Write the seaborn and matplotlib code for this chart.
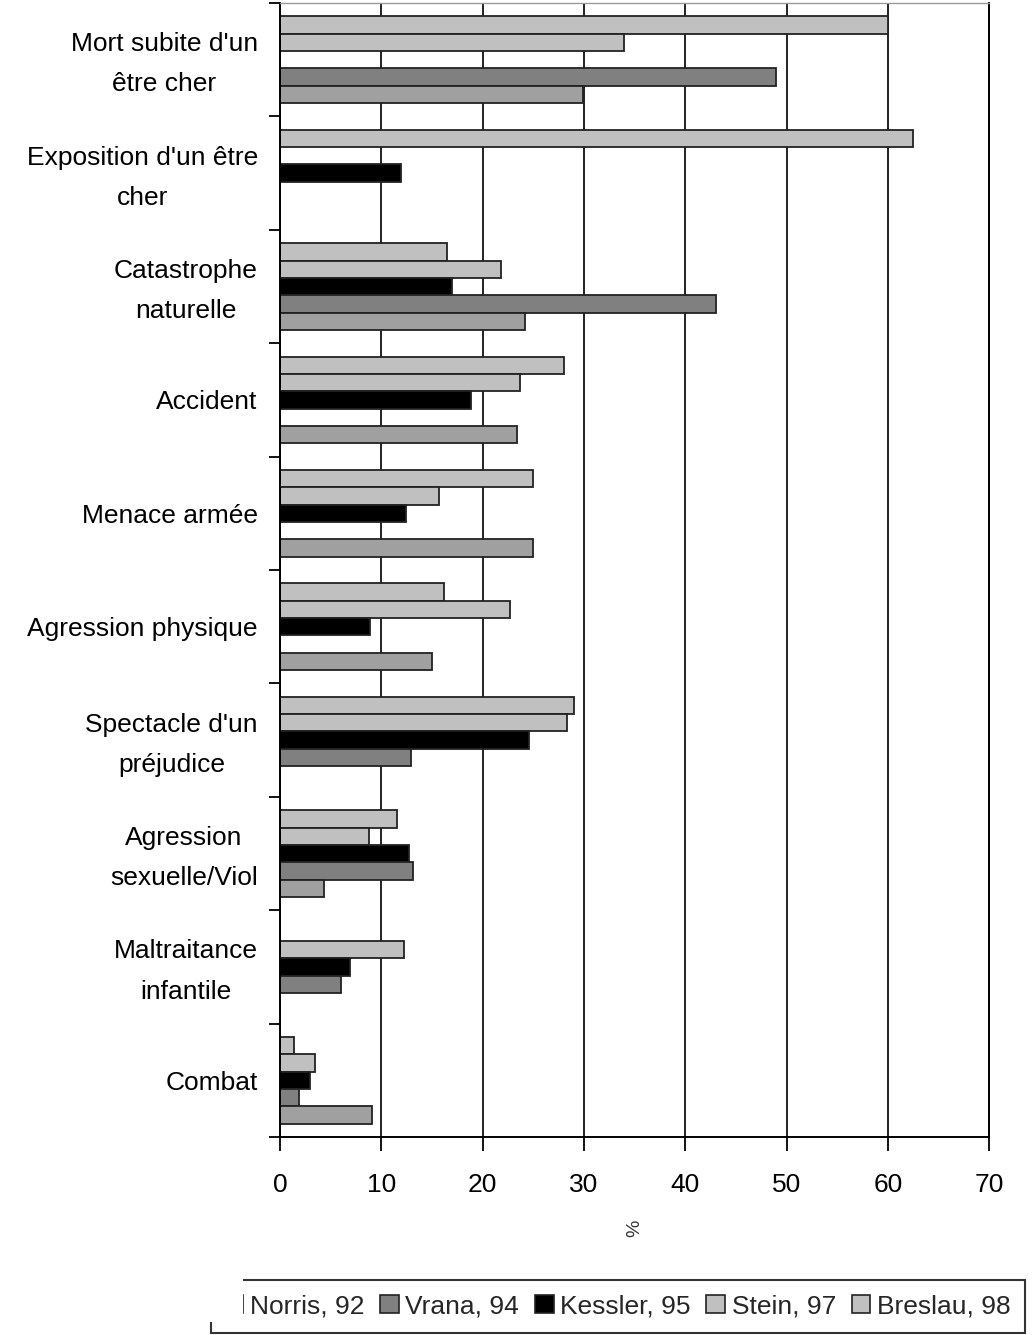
import numpy as np
import pandas as pd
import matplotlib
matplotlib.use('Agg')
import matplotlib.pyplot as plt
import matplotlib.transforms as mtransforms
from matplotlib.patches import Patch, Rectangle
import seaborn as sns

categories = ["Mort subite d'un\nêtre cher", "Exposition d'un être\ncher",
              "Catastrophe\nnaturelle", "Accident", "Menace armée",
              "Agression physique", "Spectacle d'un\npréjudice",
              "Agression\nsexuelle/Viol", "Maltraitance\ninfantile", "Combat"]
series = ['Norris, 92', 'Vrana, 94', 'Kessler, 95', 'Stein, 97', 'Breslau, 98']

nan = np.nan
norris = [29.9, nan, 24.2, 23.4, 25.0, 15.0, nan, 4.3, nan, 9.1]
vrana = [49.0, nan, 43.0, nan, nan, nan, 12.9, 13.1, 6.0, 1.9]
kessler = [nan, 11.9, 17.0, 18.9, 12.4, 8.9, 24.6, 12.7, 6.9, 3.0]
stein = [34.0, nan, 21.8, 23.7, 15.7, 22.7, 28.3, 8.8, 12.2, 3.5]
breslau = [60.0, 62.5, 16.5, 28.0, 25.0, 16.2, 29.0, 11.5, nan, 1.4]

colors = ['#a0a0a0', '#808080', '#000000', '#c0c0c0', '#c0c0c0']
palette = dict(zip(series, colors))

values = [norris, vrana, kessler, stein, breslau]
rows = []
for s, vals in zip(series, values):
    for c, v in zip(categories, vals):
        rows.append({'cat': c, 'serie': s, 'val': v})
df = pd.DataFrame(rows).dropna()

sns.set_theme(style='ticks')
plt.rcParams['font.family'] = ['Liberation Sans', 'DejaVu Sans']

fig = plt.figure(figsize=(10.33, 13.35), dpi=100)
ax = fig.add_axes([0.2711, 0.1483, 0.6864, 0.8494])

sns.barplot(data=df, x='val', y='cat', hue='serie', order=categories,
            hue_order=series[::-1], palette=palette, orient='h',
            width=0.765, gap=0, saturation=1, edgecolor='#222222',
            linewidth=1.3, legend=False, ax=ax)

ax.set_xlim(0, 70)
ax.set_ylim(9.5, -0.5)
ax.set_xticks(range(0, 71, 10))
ax.set_yticks(range(len(categories)))
ax.set_yticklabels(categories, multialignment='center', linespacing=1.85)
ax.set_yticks(np.arange(-0.5, 10, 1), minor=True)
ax.tick_params(axis='y', which='major', length=0, pad=16, labelsize=19, labelcolor='black')
ax.tick_params(axis='y', which='minor', length=8, width=1.3, color='black', left=True)
ax.tick_params(axis='x', length=10, width=1.3, color='black', pad=16, labelsize=19, labelcolor='black')

# two-line labels sit a bit higher in the original
shift = mtransforms.ScaledTranslation(0, 6 / 100, fig.dpi_scale_trans)
for lab in ax.get_yticklabels():
    if '\n' in lab.get_text():
        lab.set_transform(lab.get_transform() + shift)

ax.xaxis.grid(True, color='#222222', linewidth=1.4)
ax.set_axisbelow(True)
ax.set_ylabel('')
ax.set_xlabel('%', fontsize=14, rotation=90, labelpad=16, color='#333333')

for side in ['left', 'bottom', 'right']:
    ax.spines[side].set_color('black')
    ax.spines[side].set_linewidth(1.4)
ax.spines['top'].set_color('#999999')
ax.spines['top'].set_linewidth(1.0)

handles = [Patch(facecolor=palette[s], edgecolor='#222222', linewidth=1.2) for s in series]
leg = fig.legend(handles, series, loc='center', bbox_to_anchor=(0.598, 0.0217),
                 ncol=5, frameon=True, fancybox=False, edgecolor='black',
                 fontsize=19, handlelength=0.7, handleheight=0.7,
                 handletextpad=0.25, columnspacing=0.6, borderpad=0.55)
leg.get_frame().set_linewidth(1.5)

# the legend is partly cut on its left side in the original
fig.add_artist(Rectangle((0, 0.0097), 243 / 1033, 0.04, transform=fig.transFigure,
                         facecolor='white', edgecolor='none', zorder=10))

fig.savefig('out.png', dpi=100)
